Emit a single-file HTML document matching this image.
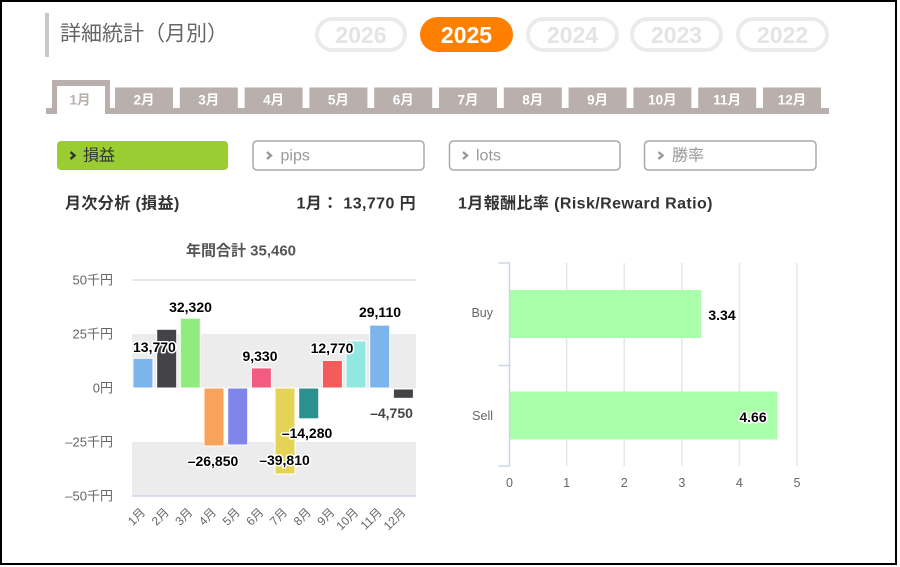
<!DOCTYPE html>
<html>
<head>
<meta charset="utf-8">
<style>
  html,body{margin:0;padding:0;background:#fff;}
  body{width:900px;height:567px;overflow:hidden;}
  svg{display:block;font-family:"Liberation Sans","Noto Sans CJK JP",sans-serif;}
  .dl{font-weight:bold;font-size:14px;fill:#000;stroke:#fff;stroke-width:3;paint-order:stroke;stroke-linejoin:round;}
  .ax{font-size:13px;fill:#666;}
  .tab{font-size:13.5px;font-weight:bold;fill:#fff;}
</style>
</head>
<body>
<svg width="900" height="567" viewBox="0 0 900 567" xmlns="http://www.w3.org/2000/svg">
  <!-- frame -->
  <rect x="0" y="0" width="900" height="567" fill="#fff"/>
  <rect x="1" y="1" width="895" height="563" fill="#fff" stroke="#000" stroke-width="2"/>

  <!-- title -->
  <rect x="45" y="13" width="4" height="44" fill="#c8c8c8"/>
  <text x="60" y="34" font-size="21" fill="#666" dominant-baseline="central">詳細統計（月別）</text>

  <!-- year buttons -->
  <g font-weight="bold" font-size="23" text-anchor="middle" dominant-baseline="central">
    <rect x="317" y="19" width="88" height="31" rx="15.5" fill="#fff" stroke="#ebebeb" stroke-width="4"/>
    <text x="361" y="35" fill="#e4e4e4">2026</text>
    <rect x="420" y="17" width="93" height="35" rx="17.5" fill="#ff8000"/>
    <text x="466.5" y="35" fill="#fff">2025</text>
    <rect x="528" y="19" width="89" height="31" rx="15.5" fill="#fff" stroke="#ebebeb" stroke-width="4"/>
    <text x="572.5" y="35" fill="#e4e4e4">2024</text>
    <rect x="632" y="19" width="89" height="31" rx="15.5" fill="#fff" stroke="#ebebeb" stroke-width="4"/>
    <text x="676.5" y="35" fill="#e4e4e4">2023</text>
    <rect x="738" y="19" width="89" height="31" rx="15.5" fill="#fff" stroke="#ebebeb" stroke-width="4"/>
    <text x="782.5" y="35" fill="#e4e4e4">2022</text>
  </g>

  <!-- month tabs -->
  <rect x="46" y="108" width="783" height="6" fill="#b9afad"/>
  <rect x="52" y="80" width="58" height="34" fill="#b9afad"/>
  <rect x="57" y="86" width="48" height="31" fill="#fff"/>
  <text x="80" y="100" class="tab" style="fill:#b9afad" text-anchor="middle" dominant-baseline="central">1月</text>
  <g class="tab" text-anchor="middle" dominant-baseline="central">
    <rect x="115" y="87.5" width="58" height="24" fill="#b9afad"/><text x="144" y="100">2月</text>
    <rect x="179.8" y="87.5" width="58" height="24" fill="#b9afad"/><text x="208.8" y="100">3月</text>
    <rect x="244.6" y="87.5" width="58" height="24" fill="#b9afad"/><text x="273.6" y="100">4月</text>
    <rect x="309.4" y="87.5" width="58" height="24" fill="#b9afad"/><text x="338.4" y="100">5月</text>
    <rect x="374.2" y="87.5" width="58" height="24" fill="#b9afad"/><text x="403.2" y="100">6月</text>
    <rect x="439" y="87.5" width="58" height="24" fill="#b9afad"/><text x="468" y="100">7月</text>
    <rect x="503.8" y="87.5" width="58" height="24" fill="#b9afad"/><text x="532.8" y="100">8月</text>
    <rect x="568.6" y="87.5" width="58" height="24" fill="#b9afad"/><text x="597.6" y="100">9月</text>
    <rect x="633.4" y="87.5" width="58" height="24" fill="#b9afad"/><text x="662.4" y="100">10月</text>
    <rect x="698.2" y="87.5" width="58" height="24" fill="#b9afad"/><text x="727.2" y="100">11月</text>
    <rect x="763" y="87.5" width="58" height="24" fill="#b9afad"/><text x="792" y="100">12月</text>
  </g>

  <!-- filter buttons -->
  <rect x="57" y="141" width="171" height="29" rx="4" fill="#9acd32"/>
  <polyline points="70.5,152 74.5,155.5 70.5,159" fill="none" stroke="#333" stroke-width="2.4"/>
  <text x="83" y="156" font-size="16" fill="#333" dominant-baseline="central">損益</text>

  <rect x="253" y="141" width="171" height="29" rx="4" fill="#fff" stroke="#aaa" stroke-width="1.5"/>
  <polyline points="267,152 271,155.5 267,159" fill="none" stroke="#999" stroke-width="2.4"/>
  <text x="280.5" y="156" font-size="16" fill="#999" dominant-baseline="central">pips</text>

  <rect x="449.5" y="141" width="170.5" height="29" rx="4" fill="#fff" stroke="#aaa" stroke-width="1.5"/>
  <polyline points="463,152 467,155.5 463,159" fill="none" stroke="#999" stroke-width="2.4"/>
  <text x="476" y="156" font-size="16" fill="#999" dominant-baseline="central">lots</text>

  <rect x="644.5" y="141" width="171.5" height="29" rx="4" fill="#fff" stroke="#aaa" stroke-width="1.5"/>
  <polyline points="658.5,152 662.5,155.5 658.5,159" fill="none" stroke="#999" stroke-width="2.4"/>
  <text x="672" y="156" font-size="16" fill="#999" dominant-baseline="central">勝率</text>

  <!-- section headers -->
  <g font-weight="bold" font-size="16" fill="#333" dominant-baseline="central" letter-spacing="0.4">
    <text x="65" y="204">月次分析 (損益)</text>
    <text x="416" y="204" text-anchor="end">1月： 13,770 円</text>
    <text x="458" y="204">1月報酬比率 (Risk/Reward Ratio)</text>
  </g>

  <!-- left chart -->
  <text x="241" y="251" font-weight="bold" font-size="15" fill="#555" text-anchor="middle" dominant-baseline="central">年間合計 35,460</text>
  <rect x="132" y="334" width="284" height="54" fill="#ececec"/>
  <rect x="132" y="442" width="284" height="54" fill="#ececec"/>
  <line x1="132" y1="280" x2="416" y2="280" stroke="#e6e6e6" stroke-width="2"/>
  <line x1="132" y1="496" x2="416" y2="496" stroke="#ccd6eb" stroke-width="1.5"/>

  <g class="ax" text-anchor="end" dominant-baseline="central">
    <text x="113" y="280">50千円</text>
    <text x="113" y="334">25千円</text>
    <text x="113" y="388">0円</text>
    <text x="113" y="442">–25千円</text>
    <text x="113" y="496">–50千円</text>
  </g>

  <g stroke="#fff" stroke-width="1">
    <rect x="133" y="358.3" width="20" height="29.7" fill="#7cb5ec"/>
    <rect x="156.7" y="329.3" width="20" height="58.7" fill="#434348"/>
    <rect x="180.3" y="318.2" width="20" height="69.8" fill="#90ed7d"/>
    <rect x="204" y="388" width="20" height="58" fill="#f7a35c"/>
    <rect x="227.7" y="388" width="20" height="57" fill="#8085e9"/>
    <rect x="251.4" y="367.9" width="20" height="20.1" fill="#f15c80"/>
    <rect x="275" y="388" width="20" height="86" fill="#e4d354"/>
    <rect x="298.7" y="388" width="20" height="30.8" fill="#2b908f"/>
    <rect x="322.4" y="360.4" width="20" height="27.6" fill="#f45b5b"/>
    <rect x="346" y="340.9" width="20" height="47.1" fill="#91e8e1"/>
    <rect x="369.7" y="325.1" width="20" height="62.9" fill="#7cb5ec"/>
    <rect x="393.4" y="389" width="20" height="9.3" fill="#434348"/>
  </g>

  <g class="dl" dominant-baseline="central">
    <text x="133" y="347">13,770</text>
    <text x="190.5" y="307" text-anchor="middle">32,320</text>
    <text x="213" y="461" text-anchor="middle">–26,850</text>
    <text x="260" y="356" text-anchor="middle">9,330</text>
    <text x="284.5" y="460" text-anchor="middle">–39,810</text>
    <text x="307" y="433" text-anchor="middle">–14,280</text>
    <text x="332" y="348" text-anchor="middle">12,770</text>
    <text x="380" y="312" text-anchor="middle">29,110</text>
    <text x="392.5" y="414" text-anchor="middle" style="fill:#aaa;stroke:none">–4,750</text>
    <text x="391.5" y="413" text-anchor="middle" style="fill:#444">–4,750</text>
  </g>

  <g font-size="12" fill="#666" text-anchor="end">
    <text transform="translate(146,513) rotate(-45)">1月</text>
    <text transform="translate(169.7,513) rotate(-45)">2月</text>
    <text transform="translate(193.3,513) rotate(-45)">3月</text>
    <text transform="translate(217,513) rotate(-45)">4月</text>
    <text transform="translate(240.7,513) rotate(-45)">5月</text>
    <text transform="translate(264.4,513) rotate(-45)">6月</text>
    <text transform="translate(288,513) rotate(-45)">7月</text>
    <text transform="translate(311.7,513) rotate(-45)">8月</text>
    <text transform="translate(335.4,513) rotate(-45)">9月</text>
    <text transform="translate(359,513) rotate(-45)">10月</text>
    <text transform="translate(382.7,513) rotate(-45)">11月</text>
    <text transform="translate(406.4,513) rotate(-45)">12月</text>
  </g>

  <!-- right chart -->
  <g stroke="#e6e6e6" stroke-width="1.5">
    <line x1="566.6" y1="263" x2="566.6" y2="466"/>
    <line x1="624.2" y1="263" x2="624.2" y2="466"/>
    <line x1="681.8" y1="263" x2="681.8" y2="466"/>
    <line x1="739.4" y1="263" x2="739.4" y2="466"/>
    <line x1="797" y1="263" x2="797" y2="466"/>
  </g>
  <rect x="509.5" y="290" width="192" height="48" fill="#aaffaa"/>
  <rect x="509.5" y="391.5" width="268" height="48" fill="#aaffaa"/>
  <g stroke="#ccd6eb" stroke-width="1.5">
    <line x1="509.5" y1="262.5" x2="509.5" y2="466.5"/>
    <line x1="498.5" y1="263" x2="509.5" y2="263"/>
    <line x1="498.5" y1="365.5" x2="509.5" y2="365.5"/>
    <line x1="498.5" y1="466" x2="509.5" y2="466"/>
  </g>
  <g class="dl" dominant-baseline="central" text-anchor="middle">
    <text x="722" y="315">3.34</text>
    <text x="753" y="417">4.66</text>
  </g>
  <g font-size="12.5" fill="#666" dominant-baseline="central">
    <text x="493" y="313" text-anchor="end">Buy</text>
    <text x="493" y="416" text-anchor="end">Sell</text>
  </g>
  <g font-size="12.5" fill="#666" text-anchor="middle" dominant-baseline="central">
    <text x="509.5" y="483">0</text>
    <text x="566.6" y="483">1</text>
    <text x="624.2" y="483">2</text>
    <text x="681.8" y="483">3</text>
    <text x="739.4" y="483">4</text>
    <text x="797" y="483">5</text>
  </g>
</svg>
</body>
</html>
